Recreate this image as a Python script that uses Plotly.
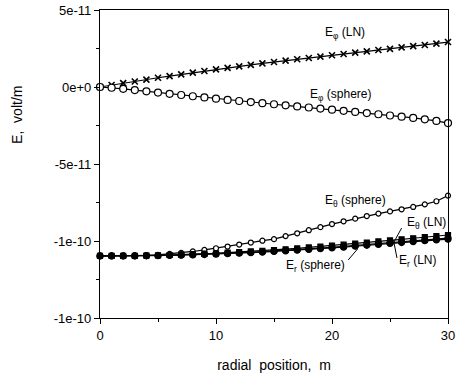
import plotly.graph_objects as go

# radial positions (m)
radial_m = list(range(31))

# field components, volt/m
e_phi_ln = [v * 1e-11 for v in [
    0.00, 0.13, 0.25, 0.36, 0.48, 0.60, 0.71, 0.82, 0.93, 1.04,
    1.14, 1.24, 1.34, 1.44, 1.53, 1.62, 1.71, 1.80, 1.88, 1.97,
    2.06, 2.14, 2.23, 2.31, 2.40, 2.48, 2.57, 2.65, 2.73, 2.82, 2.92]]
e_phi_sphere = [v * 1e-11 for v in [
    0.00, -0.05, -0.12, -0.20, -0.28, -0.36, -0.44, -0.52, -0.60, -0.68,
    -0.76, -0.84, -0.91, -0.98, -1.05, -1.12, -1.19, -1.26, -1.33, -1.40,
    -1.47, -1.55, -1.62, -1.69, -1.77, -1.85, -1.93, -2.01, -2.10, -2.20, -2.34]]
e_theta_sphere = [v * 1e-10 for v in [
    -1.097, -1.097, -1.096, -1.095, -1.093, -1.090, -1.084, -1.077, -1.068, -1.058,
    -1.047, -1.036, -1.023, -1.010, -0.998, -0.988, -0.968, -0.950, -0.930, -0.910,
    -0.890, -0.872, -0.855, -0.838, -0.822, -0.808, -0.794, -0.779, -0.762, -0.742, -0.705]]
e_theta_ln = [v * 1e-10 for v in [
    -1.097, -1.097, -1.097, -1.096, -1.095, -1.093, -1.091, -1.089, -1.086, -1.083,
    -1.080, -1.076, -1.072, -1.068, -1.064, -1.059, -1.054, -1.048, -1.042, -1.036,
    -1.030, -1.024, -1.017, -1.010, -1.003, -0.996, -0.989, -0.982, -0.975, -0.968, -0.961]]
e_r_sphere = [v * 1e-10 for v in [
    -1.097, -1.097, -1.097, -1.096, -1.095, -1.094, -1.092, -1.090, -1.088, -1.085,
    -1.082, -1.079, -1.076, -1.073, -1.069, -1.065, -1.061, -1.056, -1.051, -1.046,
    -1.041, -1.035, -1.029, -1.023, -1.017, -1.011, -1.005, -0.999, -0.993, -0.987, -0.981]]
e_r_ln = [v * 1e-10 for v in [
    -1.097, -1.097, -1.097, -1.097, -1.096, -1.095, -1.094, -1.092, -1.090, -1.088,
    -1.085, -1.082, -1.079, -1.076, -1.072, -1.068, -1.064, -1.060, -1.055, -1.050,
    -1.045, -1.040, -1.034, -1.028, -1.022, -1.016, -1.010, -1.004, -0.998, -0.993, -0.988]]

y_tickvals = [5e-11, 0, -5e-11, -1e-10, -1.5e-10]
y_ticktext = ["5e-11", "0e+0", "-5e-11", "-1e-10", "-1e-10"]
x_tickvals = [0, 10, 20, 30]
x_ticktext = ["0", "10", "20", "30"]

FONT = "Liberation Sans, Arial, Helvetica, sans-serif"
INK = "black"

fig = go.Figure()


def add_series(y, symbol, size, fill, line_w=1.2, edge=1.2):
    fig.add_trace(go.Scatter(
        x=radial_m, y=y, mode="lines+markers",
        line=dict(color=INK, width=line_w),
        marker=dict(symbol=symbol, size=size, color=fill,
                    line=dict(color=INK, width=edge)),
        cliponaxis=False, showlegend=False, hoverinfo="skip"))


add_series(e_phi_ln, "x-thin", 6, INK, edge=1.6)
add_series(e_phi_sphere, "circle", 7, "white")
add_series(e_theta_sphere, "circle", 5, "white")
add_series(e_r_ln, "circle", 6, INK)
add_series(e_theta_ln, "square", 5, INK)
add_series(e_r_sphere, "circle", 6, INK)

labels = [
    ("E<sub>φ</sub> (LN)", 19.2, 3.5e-11),
    ("E<sub>φ</sub> (sphere)", 17.9, -0.55e-11),
    ("E<sub>θ</sub> (sphere)", 19.2, -7.4e-11),
    ("E<sub>θ</sub> (LN)", 26.3, -8.85e-11),
    ("E<sub>r</sub> (LN)", 25.6, -11.3e-11),
    ("E<sub>r</sub> (sphere)", 15.9, -11.6e-11),
]
for text, x, y in labels:
    fig.add_annotation(x=x, y=y, text=text, showarrow=False,
                       xanchor="left", yanchor="middle",
                       font=dict(family=FONT, size=12, color=INK))

# leader lines from labels to their curves
leaders = [
    (21.4, -1.123e-10, 22.2, -1.052e-10),
    (26.0, -0.916e-10, 25.2, -1.026e-10),
    (25.6, -1.110e-10, 25.3, -0.994e-10),
]
for x0, y0, x1, y1 in leaders:
    fig.add_shape(type="line", x0=x0, y0=y0, x1=x1, y1=y1,
                  line=dict(color=INK, width=1))

fig.add_annotation(text="E,&nbsp; volt/m", xref="paper", yref="paper",
                   x=-0.238, y=0.66, textangle=-90, showarrow=False,
                   xanchor="center", yanchor="middle",
                   font=dict(family=FONT, size=14, color=INK))

fig.update_xaxes(
    range=[0, 30], tickmode="array", tickvals=x_tickvals, ticktext=x_ticktext,
    showline=True, linecolor=INK, linewidth=1.3, mirror=True, automargin=False,
    ticks="outside", ticklen=5, tickcolor=INK, showgrid=False, zeroline=False,
    minor=dict(tickmode="array", tickvals=[5, 15, 25], ticks="outside",
               ticklen=3, tickcolor=INK),
    tickfont=dict(family=FONT, size=13, color=INK),
    title=dict(text="radial&nbsp; position,&nbsp; m", standoff=18,
               font=dict(family=FONT, size=14, color=INK)),
)
fig.update_yaxes(
    range=[-1.5e-10, 5e-11], tickmode="array", tickvals=y_tickvals,
    ticktext=y_ticktext,
    showline=True, linecolor=INK, linewidth=1.3, mirror=True, automargin=False,
    ticks="outside", ticklen=5, tickcolor=INK, showgrid=False, zeroline=False,
    minor=dict(tickmode="array", tickvals=[2.5e-11, -2.5e-11, -7.5e-11, -1.25e-10],
               ticks="outside", ticklen=3, tickcolor=INK),
    tickfont=dict(family=FONT, size=13, color=INK),
)

fig.update_layout(
    width=457, height=373,
    margin=dict(l=100, r=9, t=10, b=55),
    paper_bgcolor="white", plot_bgcolor="white",
    font=dict(family=FONT, color=INK),
)

fig.write_html("out.html")
